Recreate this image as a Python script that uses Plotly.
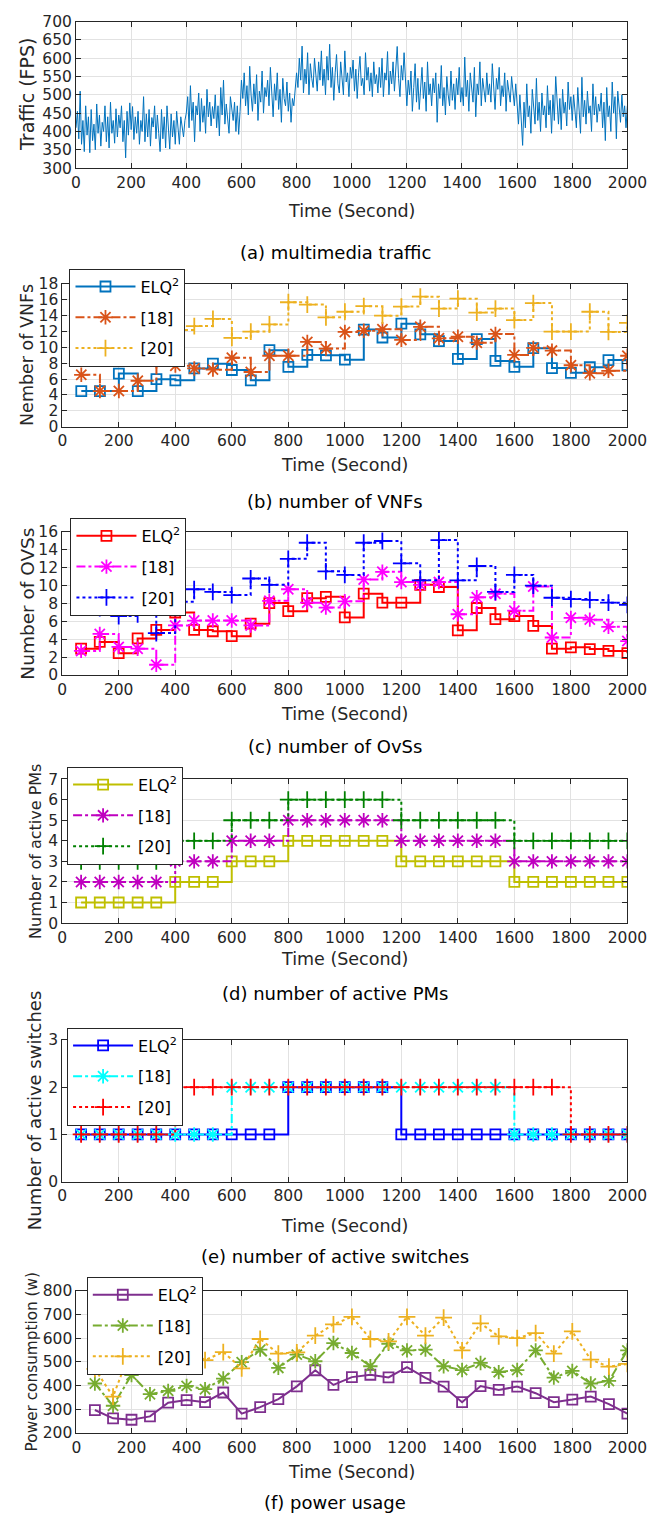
import plotly.graph_objects as go

W, H = 665, 1524
FONT = "DejaVu Sans"
AX = "#262626"

# ---------------- data ----------------
time_pts = [67, 133, 200, 267, 333, 400, 467, 533, 600, 667, 733, 800, 867, 933, 1000,
            1067, 1133, 1200, 1267, 1333, 1400, 1467, 1533, 1600, 1667, 1733, 1800, 1867, 1933, 2000]

traffic_time = list(range(0, 2001, 5))
traffic_fps = [
    410, 455, 380, 510, 365, 430, 345, 470, 390, 440, 342, 460, 375, 420, 350, 475, 395, 445, 360, 425,
    400, 470, 372, 440, 355, 480, 395, 430, 368, 462, 385, 445, 410, 470, 372, 430, 328, 455, 390, 478,
    405, 468, 378, 440, 395, 455, 365, 430, 400, 495, 372, 448, 385, 460, 360, 438, 412, 470, 380, 445,
    395, 345, 460, 380, 440, 355, 470, 398, 352, 448, 385, 430, 365, 455, 400, 365, 440, 410, 385, 430,
    450, 495, 410, 525, 430, 480, 372, 470, 445, 505, 400, 490, 425, 470, 395, 515, 440, 480, 415, 468,
    435, 500, 410, 470, 388, 520, 445, 540, 420, 475, 440, 395, 495, 455, 430, 480, 400, 470, 392, 455,
    540, 490, 560, 470, 525, 445, 578, 500, 455, 530, 475, 555, 430, 510, 480, 565, 450, 520, 495, 540,
    470, 575, 500, 440, 530, 485, 560, 460, 515, 425, 545, 490, 470, 535, 455, 505, 425, 490, 470, 510,
    560, 520, 600, 540, 633, 505, 570, 530, 615, 500, 585, 545, 520, 600, 555, 510, 590, 540, 620, 525,
    570, 500, 605, 540, 638, 520, 575, 485, 560, 610, 530, 505, 590, 545, 500, 620, 535, 560, 495, 575,
    545, 595, 510, 570, 490, 560, 605, 525, 545, 500, 615, 540, 575, 510, 560, 495, 590, 530, 555, 505,
    575, 520, 600, 495, 560, 540, 618, 500, 565, 530, 590, 510, 575, 632, 545, 495, 580, 540, 615, 520,
    470, 540, 500, 565, 455, 520, 585, 480, 545, 460, 510, 575, 490, 535, 455, 590, 500, 530, 470, 545,
    505, 560, 425, 530, 490, 580, 470, 520, 445, 550, 500, 470, 565, 485, 530, 460, 545, 500, 575, 480,
    520, 470, 603, 495, 540, 455, 560, 510, 480, 575, 440, 530, 500, 590, 470, 545, 515, 480, 560, 500,
    530, 480, 585, 500, 460, 545, 515, 575, 470, 525, 495, 560, 455, 540, 505, 480, 550, 510, 470, 530,
    460, 420, 500, 445, 362, 480, 410, 530, 440, 470, 395, 515, 455, 420, 545, 430, 480, 400, 505, 445,
    470, 410, 525, 445, 485, 395, 500, 430, 550, 465, 420, 490, 405, 515, 450, 480, 415, 535, 460, 495,
    430, 500, 455, 410, 520, 465, 395, 548, 440, 485, 420, 510, 450, 470, 400, 530, 445, 495, 425, 475,
    455, 505, 410, 480, 375, 520, 440, 470, 400, 535, 450, 495, 380, 510, 460, 425, 500, 440, 470, 410,
    470,
]

vnf_elq = [4.5, 4.5, 6.7, 4.5, 6.0, 5.85, 7.35, 7.95, 7.15, 5.85, 9.65, 7.55, 9.05, 9.0, 8.45,
           12.25, 11.25, 13.0, 11.65, 10.8, 8.55, 11.05, 8.3, 7.55, 9.9, 7.4, 6.8, 7.5, 8.4, 7.75]
vnf_18 = [6.55, 4.5, 4.5, 5.8, 8.25, 7.7, 7.35, 7.2, 8.7, 6.9, 8.95, 8.95, 10.7, 9.85, 11.95,
          12.1, 12.3, 10.95, 12.6, 11.15, 11.35, 10.6, 11.7, 9.05, 9.95, 9.6, 7.75, 6.75, 7.05, 8.95]
vnf_20 = [11.0, 11.5, 9.1, 8.8, 11.0, 12.2, 12.7, 13.6, 11.2, 12.0, 12.9, 15.7, 15.4, 13.8, 14.5,
          15.2, 14.0, 15.15, 16.4, 14.9, 16.15, 14.4, 14.9, 13.45, 15.6, 12.0, 12.0, 14.5, 11.95, 13.1]

ovs_elq = [2.95, 3.7, 2.45, 4.1, 5.05, 7.0, 5.05, 4.9, 4.35, 5.75, 8.05, 7.15, 8.6, 8.75, 6.45,
           9.1, 8.1, 8.1, 10.1, 9.85, 5.0, 7.5, 6.25, 6.6, 5.5, 2.95, 3.1, 2.9, 2.7, 2.45]
ovs_18 = [2.7, 4.6, 3.15, 2.95, 1.15, 5.55, 6.1, 6.1, 6.1, 5.55, 8.3, 9.6, 8.1, 7.55, 8.25,
          10.7, 11.55, 10.4, 10.1, 10.4, 6.8, 8.7, 9.1, 7.2, 9.9, 4.2, 6.4, 6.2, 5.4, 3.8]
ovs_20 = [8.0, 7.5, 6.6, 6.8, 4.7, 8.2, 9.6, 9.3, 8.95, 10.8, 10.1, 13.0, 14.8, 11.6, 11.2,
          14.8, 15.0, 12.5, 10.6, 15.1, 10.6, 12.2, 9.3, 11.2, 10.0, 8.65, 8.5, 8.4, 8.1, 7.85]

pm_elq = [1, 1, 1, 1, 1, 2, 2, 2, 3, 3, 3, 4, 4, 4, 4, 4, 4, 3, 3, 3, 3, 3, 3, 2, 2, 2, 2, 2, 2, 2]
pm_18 = [2, 2, 2, 2, 2, 3, 3, 3, 4, 4, 4, 5, 5, 5, 5, 5, 5, 4, 4, 4, 4, 4, 4, 3, 3, 3, 3, 3, 3, 3]
pm_20 = [3, 3, 3, 3, 3, 4, 4, 4, 5, 5, 5, 6, 6, 6, 6, 6, 6, 5, 5, 5, 5, 5, 5, 4, 4, 4, 4, 4, 4, 4]

sw_elq = [1, 1, 1, 1, 1, 1, 1, 1, 1, 1, 1, 2, 2, 2, 2, 2, 2, 1, 1, 1, 1, 1, 1, 1, 1, 1, 1, 1, 1, 1]
sw_18 = [1, 1, 1, 1, 1, 1, 1, 1, 2, 2, 2, 2, 2, 2, 2, 2, 2, 2, 2, 2, 2, 2, 2, 1, 1, 1, 1, 1, 1, 1]
sw_20 = [1, 1, 1, 1, 1, 2, 2, 2, 2, 2, 2, 2, 2, 2, 2, 2, 2, 2, 2, 2, 2, 2, 2, 2, 2, 2, 1, 1, 1, 1]

pw_elq = [297, 262, 256, 270, 328, 339, 330, 371, 282, 309, 343, 397, 465, 403, 436,
          446, 435, 478, 433, 396, 330, 398, 382, 396, 368, 330, 341, 354, 322, 282]
pw_18 = [409, 315, 445, 364, 378, 399, 385, 430, 499, 552, 475, 531, 503, 580, 538,
         482, 577, 549, 552, 482, 466, 496, 457, 466, 549, 434, 462, 409, 420, 549]
pw_20 = [471, 354, 560, 490, 510, 555, 508, 542, 473, 597, 535, 541, 611, 659, 691,
         597, 587, 691, 611, 687, 549, 663, 608, 601, 622, 535, 629, 510, 480, 492]

series_names = ["ELQ<sup>2</sup>", "[18]", "[20]"]

# ---------------- layout geometry (px) ----------------
panels = [
    dict(l=73.8, r=646.7, t=12.7, b=161, yr=[300, 700], dy=50, ytitle="Traffic (FPS)", yts=19, ytx=23,
         xt=204, cap="(a) multimedia traffic", capy=246.7),
    dict(l=59.6, r=646.7, t=278.3, b=422.7, yr=[0, 18], dy=2, ytitle="Nember of VNFs", yts=17.5, ytx=23.5,
         xt=461.7, cap="(b) number of VNFs", capy=498, leg=(67, 262.7)),
    dict(l=59.4, r=646.7, t=529.3, b=674, yr=[0, 16], dy=2, ytitle="Number of OVSs", yts=18.5, ytx=23,
         xt=713, cap="(c) number of OvSs", capy=746, leg=(68, 515)),
    dict(l=59.4, r=646.7, t=779.3, b=925, yr=[0, 7], dy=1, ytitle="Number of active PMs", yts=16, ytx=31,
         xt=961.7, cap="(d) number of active PMs", capy=996.7, leg=(64.5, 766.7)),
    dict(l=59.4, r=646.7, t=1043.3, b=1186.7, yr=[0, 3], dy=1, ytitle="Number of active switches", yts=18,
         ytx=30.5, xt=1231.7, cap="(e) number of active switches", capy=1262, leg=(64.5, 1030.7)),
    dict(l=74.2, r=646.7, t=1297.3, b=1441, yr=[200, 800], dy=100, ytitle="Power consumption (w)", yts=15.3,
         ytx=28.5, xt=1480, cap="(f) power usage", capy=1511.7, leg=(85, 1283)),
]

fig = go.Figure()


def add(i, y, name, color, dash, symbol, msize, shape="hv", width=2.0, mlw=1.8):
    fig.add_trace(go.Scatter(
        x=time_pts, y=y, name=name, mode="lines+markers",
        xaxis="x" if i == 0 else f"x{i+1}", yaxis="y" if i == 0 else f"y{i+1}",
        legend="legend" if i == 0 else f"legend{i+1}",
        legendgroup=f"g{i}_{name}",
        line=dict(color=color, width=width, dash=dash, shape=shape),
        marker=dict(symbol=symbol, size=msize, color=color, line=dict(color=color, width=mlw)),
    ))


# panel a
fig.add_trace(go.Scatter(x=traffic_time, y=traffic_fps, mode="lines", showlegend=False,
                         line=dict(color="#0072BD", width=1.0), xaxis="x", yaxis="y"))

# panel b
add(1, vnf_elq, series_names[0], "#0072BD", "solid", "square-open", 10)
add(1, vnf_18, series_names[1], "#D95319", "dashdot", "asterisk-open", 12)
add(1, vnf_20, series_names[2], "#EDB120", "dot", "cross-thin-open", 12)
# panel c
add(2, ovs_elq, series_names[0], "#FF0000", "solid", "square-open", 10)
add(2, ovs_18, series_names[1], "#FF00FF", "dashdot", "asterisk-open", 12)
add(2, ovs_20, series_names[2], "#0000FF", "dot", "cross-thin-open", 12)
# panel d
add(3, pm_elq, series_names[0], "#BFBF00", "solid", "square-open", 10)
add(3, pm_18, series_names[1], "#BF00BF", "dashdot", "asterisk-open", 12)
add(3, pm_20, series_names[2], "#008000", "dot", "cross-thin-open", 12)
# panel e
add(4, sw_elq, series_names[0], "#0000FF", "solid", "square-open", 10)
add(4, sw_18, series_names[1], "#00FFFF", "dashdot", "asterisk-open", 12)
add(4, sw_20, series_names[2], "#FF0000", "dot", "cross-thin-open", 12)
# panel f
add(5, pw_elq, series_names[0], "#7E2F8E", "solid", "square-open", 10, shape="linear")
add(5, pw_18, series_names[1], "#77AC30", "dashdot", "asterisk-open", 12, shape="linear")
add(5, pw_20, series_names[2], "#EDB120", "dot", "cross-thin-open", 12, shape="linear")

layout = dict(width=W, height=H, margin=dict(l=0, r=0, t=0, b=0),
              paper_bgcolor="white", plot_bgcolor="white",
              font=dict(family=FONT, color=AX, size=15.5), annotations=[])

for i, p in enumerate(panels):
    xs = "xaxis" if i == 0 else f"xaxis{i+1}"
    ys = "yaxis" if i == 0 else f"yaxis{i+1}"
    common = dict(showgrid=True, gridcolor="#e2e2e2", gridwidth=1, showline=True, linecolor=AX,
                  linewidth=1, mirror="ticks", ticks="inside", ticklen=5, tickcolor=AX, zeroline=False,
                  ticklabeloverflow="allow", tickfont=dict(family=FONT, size=15.5, color=AX))
    layout[xs] = dict(domain=[p["l"] / W, p["r"] / W], range=[0, 2000], tickmode="array",
                      tickvals=list(range(0, 2001, 200)),
                      anchor="y" if i == 0 else f"y{i+1}", **common)
    layout[ys] = dict(domain=[1 - p["b"] / H, 1 - p["t"] / H], range=p["yr"], dtick=p["dy"], tick0=p["yr"][0],
                      anchor="x" if i == 0 else f"x{i+1}", **common)
    cx = (p["l"] + p["r"]) / 2 / W
    layout["annotations"] += [
        dict(text="Time (Second)", x=cx, y=1 - p["xt"] / H, xref="paper", yref="paper", showarrow=False,
             xanchor="center", yanchor="middle", font=dict(family=FONT, size=17.5, color=AX)),
        dict(text=p["ytitle"], x=p["ytx"] / W, y=1 - (p["t"] + p["b"]) / 2 / H, xref="paper", yref="paper",
             showarrow=False, textangle=-90, xanchor="center", yanchor="middle",
             font=dict(family=FONT, size=p["yts"], color=AX)),
        dict(text=p["cap"], x=343 / W, y=1 - p["capy"] / H, xref="paper", yref="paper", showarrow=False,
             xanchor="center", yanchor="middle", font=dict(family=FONT, size=18, color="#000")),
    ]
    if "leg" in p:
        lg = "legend" if i == 0 else f"legend{i+1}"
        layout[lg] = dict(x=p["leg"][0] / W, y=1 - p["leg"][1] / H, xanchor="left", yanchor="top",
                          bgcolor="white", bordercolor=AX, borderwidth=1,
                          font=dict(family=FONT, size=16, color="#000"), itemwidth=60, tracegroupgap=7)

fig.update_layout(**layout)
fig.write_html("out.html")
